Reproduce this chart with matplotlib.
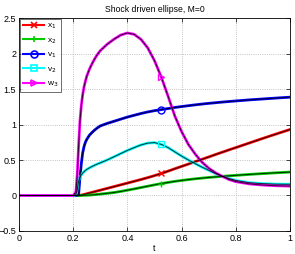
import matplotlib
matplotlib.use("Agg")
import matplotlib.pyplot as plt
from matplotlib.lines import Line2D

plt.rcParams["font.family"] = ["Liberation Sans", "DejaVu Sans"]

# 时间采样点（在激波到达附近采样更密）
t = [0.0, 0.2, 0.21, 0.215, 0.22, 0.225, 0.23, 0.235, 0.24, 0.245, 0.25,
     0.26, 0.27, 0.28, 0.29,
     0.3, 0.325, 0.35, 0.375, 0.4, 0.425, 0.45, 0.475, 0.5, 0.525, 0.55,
     0.575, 0.6, 0.625, 0.65, 0.675, 0.7, 0.725, 0.75, 0.775, 0.8,
     0.85, 0.9, 0.95, 1.0]

x1 = [0, 0, 0, 0, 0, 0.003, 0.006, 0.01, 0.015, 0.02, 0.025,
      0.035, 0.045, 0.055, 0.065,
      0.075, 0.10, 0.125, 0.15, 0.175, 0.20, 0.225, 0.252, 0.28, 0.31, 0.343,
      0.377, 0.41, 0.443, 0.477, 0.51, 0.543, 0.577, 0.61, 0.643, 0.675,
      0.74, 0.805, 0.868, 0.93]
x2 = [0, 0, 0, 0, 0, 0.001, 0.001, 0.002, 0.003, 0.003, 0.004,
      0.006, 0.009, 0.012, 0.016,
      0.02, 0.03, 0.042, 0.057, 0.075, 0.093, 0.112, 0.131, 0.15, 0.168, 0.184,
      0.199, 0.212, 0.224, 0.235, 0.245, 0.254, 0.262, 0.27, 0.277, 0.284,
      0.297, 0.309, 0.32, 0.33]
v1 = [0, 0, 0, 0.005, 0.02, 0.25, 0.45, 0.6, 0.69, 0.75, 0.79,
      0.85, 0.89, 0.925, 0.955,
      0.98, 1.015, 1.045, 1.075, 1.105, 1.13, 1.155, 1.177, 1.195, 1.21, 1.225,
      1.24, 1.253, 1.265, 1.277, 1.288, 1.298, 1.307, 1.316, 1.324, 1.332,
      1.347, 1.36, 1.373, 1.385]
v2 = [0, 0, 0.01, 0.08, 0.2, 0.26, 0.29, 0.315, 0.335, 0.352, 0.367,
      0.39, 0.41, 0.428, 0.445,
      0.46, 0.50, 0.545, 0.59, 0.635, 0.675, 0.712, 0.738, 0.745, 0.72, 0.675,
      0.615, 0.555, 0.50, 0.45, 0.40, 0.355, 0.31, 0.27, 0.238, 0.212,
      0.18, 0.167, 0.16, 0.158]
w3 = [0, 0, 0.05, 0.3, 0.7, 1.05, 1.27, 1.42, 1.53, 1.61, 1.68,
      1.78, 1.86, 1.93, 1.99,
      2.04, 2.13, 2.20, 2.26, 2.29, 2.27, 2.20, 2.08, 1.90, 1.67, 1.40,
      1.12, 0.90, 0.72, 0.585, 0.47, 0.385, 0.32, 0.27, 0.225, 0.195,
      0.163, 0.147, 0.137, 0.132]

series = [
    (x1, "x$_1$", "red", "x"),
    (x2, "x$_2$", "#00cc00", "+"),
    (v1, "v$_1$", "blue", "o"),
    (v2, "v$_2$", "cyan", "s"),
    (w3, "w$_3$", "magenta", ">"),
]
mark_idx = t.index(0.525)

fig = plt.figure(figsize=(2.95, 2.54), dpi=100)
ax = fig.add_axes([0.0644, 0.0906, 0.9186, 0.8384])

handles = []
for values, label, color, marker in series:
    ax.plot(t, values, color=color, lw=2.0, zorder=2)
    ax.plot(t, values, color="black", lw=0.7, alpha=0.8, zorder=3)
    ax.plot([t[mark_idx]], [values[mark_idx]], linestyle="none", marker=marker,
            color=color, markerfacecolor="none", markersize=5, mew=1.0, zorder=4)
    handles.append(Line2D([], [], color=color, lw=1.5, marker=marker,
                          markerfacecolor="none", markersize=5, mew=1.2, label=label))

ax.set_xlim(0, 1)
ax.set_ylim(-0.5, 2.5)
ax.set_xticks([0, 0.2, 0.4, 0.6, 0.8, 1])
ax.set_xticklabels(["0", "0.2", "0.4", "0.6", "0.8", "1"])
ax.set_yticks([-0.5, 0, 0.5, 1, 1.5, 2, 2.5])
ax.set_yticklabels(["\u22120.5", "0", "0.5", "1", "1.5", "2", "2.5"])
ax.tick_params(direction="in", top=True, right=True, labelsize=6.5, length=3, width=0.5, pad=2)
ax.grid(True, linestyle=":", color="#b0b0b0", lw=0.6)
for s in ax.spines.values():
    s.set_linewidth(0.6)

ax.set_title("Shock driven ellipse, M=0", fontsize=6.2, pad=4)
ax.set_xlabel("t", fontsize=6.5, labelpad=1)

leg = ax.legend(handles=handles, loc="upper left", fontsize=6, frameon=True,
                fancybox=False, edgecolor="black", borderaxespad=0.15,
                handlelength=2.6, handletextpad=0.3, labelspacing=0.6,
                borderpad=0.3)
leg.get_frame().set_linewidth(0.5)

fig.savefig("out.png", dpi=100)
